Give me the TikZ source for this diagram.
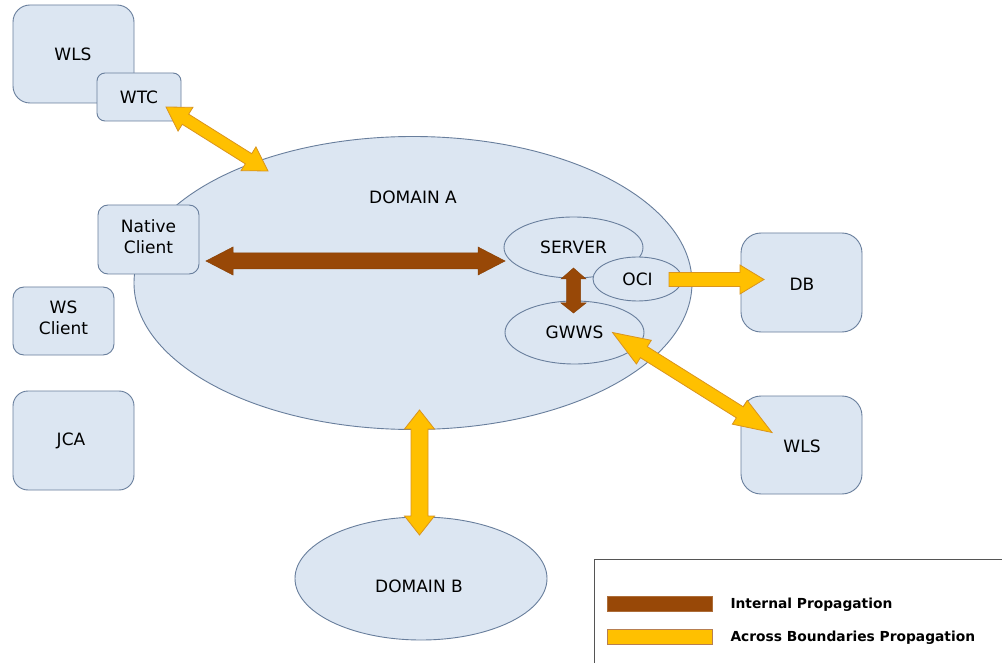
\documentclass[tikz,border=0pt]{standalone}
\usepackage{fontspec}
\setmainfont{DejaVu Sans}
\usetikzlibrary{calc,shapes.geometric}
\definecolor{boxfill}{HTML}{DCE6F2}
\definecolor{boxline}{HTML}{687E9C}
\definecolor{brownarr}{HTML}{984807}
\definecolor{yelarr}{HTML}{FFC000}
\definecolor{yelline}{HTML}{D9941E}
\definecolor{legline}{HTML}{555555}
\newcommand{\dblarrow}[7]{%
  \coordinate (#1-#2-p) at ($(#1)!#6!(#2)$);
  \coordinate (#1-#2-q) at ($(#2)!#7!(#1)$);
  \draw[#3] (#1) -- ($(#1-#2-p)!#5!90:(#2)$) -- ($(#1-#2-p)!#4!90:(#2)$)
    -- ($(#1-#2-q)!#4!-90:(#1)$) -- ($(#1-#2-q)!#5!-90:(#1)$) -- (#2)
    -- ($(#1-#2-q)!#5!90:(#1)$) -- ($(#1-#2-q)!#4!90:(#1)$)
    -- ($(#1-#2-p)!#4!-90:(#2)$) -- ($(#1-#2-p)!#5!-90:(#2)$) -- cycle;}
\newcommand{\sglarrow}[6]{%
  \coordinate (#1-#2-q) at ($(#2)!#6!(#1)$);
  \draw[#3] ($(#1)!#4!90:(#2)$) -- ($(#1-#2-q)!#4!-90:(#1)$) -- ($(#1-#2-q)!#5!-90:(#1)$)
    -- (#2) -- ($(#1-#2-q)!#5!90:(#1)$) -- ($(#1-#2-q)!#4!90:(#1)$)
    -- ($(#1)!#4!-90:(#2)$) -- cycle;}
\tikzset{
  x=1pt, y=-1pt,
  every node/.style={font=\fontsize{17}{21}\selectfont, text=black},
  rbox/.style={draw=boxline, fill=boxfill, line width=0.9pt, rounded corners=#1},
  ell/.style={ellipse, draw=boxline, fill=boxfill, line width=0.9pt, inner sep=0pt},
  brownA/.style={fill=brownarr, draw=brownarr!90!black, line width=0.5pt, line join=miter},
  yelA/.style={fill=yelarr, draw=yelline, line width=0.8pt, line join=miter},
  legtext/.style={font=\fontsize{13.8}{16}\selectfont\bfseries, anchor=west, text=black},
}
\begin{document}
\begin{tikzpicture}
\useasboundingbox (0,0) rectangle (1002,663);
\clip (0,0) rectangle (1002,663);
\fill[white] (0,0) rectangle (1002,663);
% left boxes
\draw[rbox=17pt] (13,5) rectangle (134,103);
\node (wls1) at (73,54) {WLS};
\draw[rbox=8pt] (97,73) rectangle (181,121);
\node (wtc) at (139,97) {WTC};
% domain A
\node[ell, minimum width=558pt, minimum height=293pt] (domA) at (413,283) {};
\node (domAlbl) at (413,197) {DOMAIN A};
\draw[rbox=10pt] (98,205) rectangle (199,274);
\node[align=center] (native) at (148.5,237) {Native\\Client};
\draw[rbox=11pt] (13,287) rectangle (114,355);
\node[align=center] (ws) at (63.5,318) {WS\\Client};
\draw[rbox=15pt] (13,391) rectangle (134,490);
\node (jca) at (71,441) {JCA};
% inner ellipses
\node[ell, minimum width=139pt, minimum height=61pt] (server) at (573.5,247.5) {SERVER};
\node[ell, minimum width=89pt, minimum height=44pt] (oci) at (637.5,279) {OCI};
\node[ell, minimum width=139pt, minimum height=63pt] (gwws) at (574.5,332.5) {GWWS};
% right boxes
\draw[rbox=20pt] (741,233) rectangle (862,332);
\node (db) at (802,284) {DB};
\draw[rbox=20pt] (741,396) rectangle (862,494);
\node (wls2) at (802,446) {WLS};
% domain B
\node[ell, minimum width=252pt, minimum height=123pt] (domB) at (421,578.5) {};
\node (domBlbl) at (419,586) {DOMAIN B};
% arrow tips
\coordinate (t1a) at (166,107);
\coordinate (t1b) at (268,171);
\coordinate (t2a) at (206,261);
\coordinate (t2b) at (505,261);
\coordinate (t3a) at (573.5,268);
\coordinate (t3b) at (573.5,313);
\coordinate (t4a) at (669,279.5);
\coordinate (t4b) at (764,279.5);
\coordinate (t5a) at (612.5,332.5);
\coordinate (t5b) at (772,432.5);
\coordinate (t6a) at (419.5,410);
\coordinate (t6b) at (419.5,535);
% arrows
\dblarrow{t1a}{t1b}{yelA}{6pt}{14pt}{23pt}{23pt}
\dblarrow{t2a}{t2b}{brownA}{8pt}{14pt}{27pt}{27pt}
\dblarrow{t3a}{t3b}{brownA}{7pt}{12.5pt}{11pt}{10pt}
\sglarrow{t4a}{t4b}{yelA}{7pt}{14.5pt}{24pt}
\dblarrow{t5a}{t5b}{yelA}{6.5pt}{14pt}{37pt}{38pt}
\dblarrow{t6a}{t6b}{yelA}{8.5pt}{15pt}{19pt}{19pt}
% legend
\draw[legline, line width=0.9pt] (594,680) -- (594,559) -- (1010,559);
\draw[fill=brownarr, draw=brownarr!80!white, line width=0.5pt] (607,596) rectangle (712,611);
\draw[fill=yelarr, draw=brownarr!70!white, line width=0.6pt] (607,629) rectangle (712,644);
\node[legtext] (lt1) at (727,605) {Internal Propagation};
\node[legtext] (lt2) at (727,638) {Across Boundaries Propagation};
\end{tikzpicture}
\end{document}
